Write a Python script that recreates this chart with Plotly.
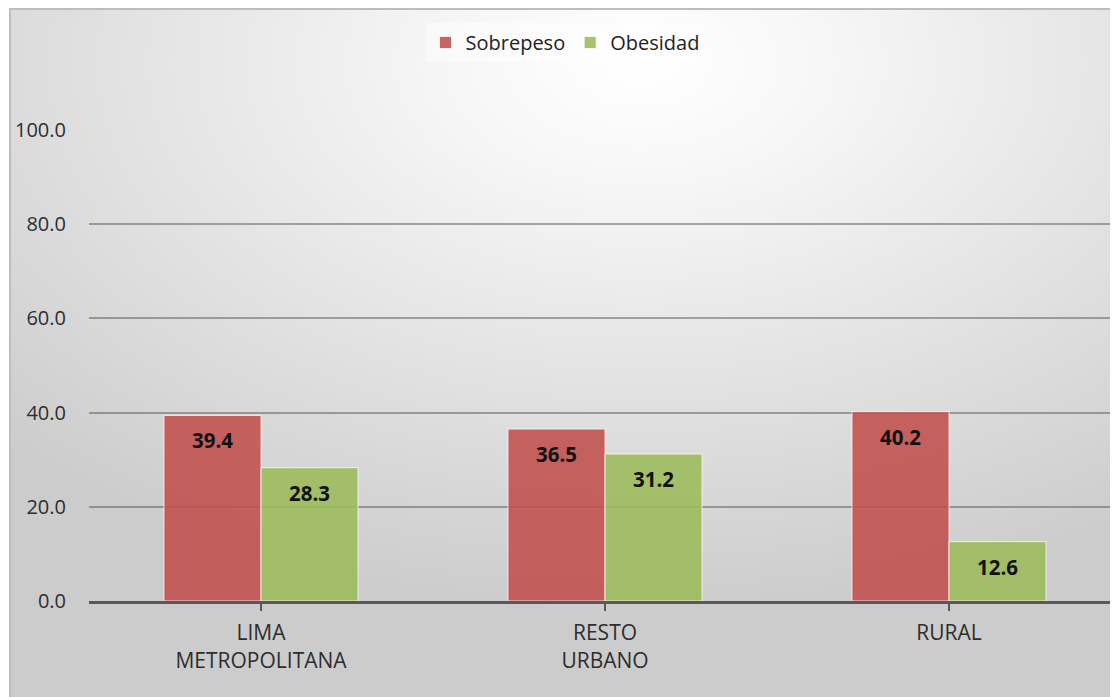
import base64
import plotly.graph_objects as go

# ---- data ----
categories = ["LIMA<br>METROPOLITANA", "RESTO<br>URBANO", "RURAL"]
sobrepeso = [39.4, 36.5, 40.2]
obesidad = [28.3, 31.2, 12.6]
series_names = ["Sobrepeso", "Obesidad"]
y_ticks = [0, 20, 40, 60, 80, 100]
y_tick_labels = ["0.0", "20.0", "40.0", "60.0", "80.0", "100.0"]

# ---- style ----
OFF = 8  # page body margin
W, H = 1118 - OFF, 697 - OFF
ML, MR, MT, MB = 89 - OFF, 0, 130 - OFF, 697 - 601
plot_w = W - ML - MR
plot_h = H - MT - MB
cat_px = 344.0
BARGAP = 0.436
FONT = "Open Sans"
red = "rgba(192,80,77,0.88)"
green = "rgba(155,187,89,0.88)"

# radial gradient background (SVG data URI)
bg_x0, bg_y0, bg_x1, bg_y1 = 1, 0, W - 1, H
bw, bh = bg_x1 - bg_x0, bg_y1 - bg_y0
svg = (
    f"<svg xmlns='http://www.w3.org/2000/svg' width='{bw}' height='{bh}' viewBox='0 0 {bw} {bh}' preserveAspectRatio='none'>"
    "<defs><radialGradient id='g' cx='0.57' cy='0.08' r='0.8'>"
    "<stop offset='0' stop-color='#ffffff'/><stop offset='0.2' stop-color='#f7f7f7'/>"
    "<stop offset='1' stop-color='#cccccc'/></radialGradient></defs>"
    f"<rect x='0' y='0' width='{bw}' height='{bh}' fill='url(#g)'/>"
    f"<rect x='1' y='1' width='{bw-2}' height='{bh+5}' fill='none' stroke='#bdbdbd' stroke-width='2'/>"
    "</svg>"
)
src = "data:image/svg+xml;base64," + base64.b64encode(svg.encode()).decode()

fig = go.Figure()
xs = list(range(len(categories)))
fig.add_trace(go.Bar(x=xs, y=sobrepeso, name=series_names[0],
                     marker=dict(color=red, line=dict(color="rgba(255,255,255,0.75)", width=1))))
fig.add_trace(go.Bar(x=xs, y=obesidad, name=series_names[1],
                     marker=dict(color=green, line=dict(color="rgba(255,255,255,0.75)", width=1))))

# data labels, placed inside the bar tops
bar_w = (1 - BARGAP) / 2
annotations = []
for i in xs:
    for vals, off in ((sobrepeso, -bar_w / 2), (obesidad, bar_w / 2)):
        annotations.append(dict(x=i + off, y=vals[i], xref="x", yref="y",
                                text=f"<b>{vals[i]:.1f}</b>", showarrow=False,
                                yshift=-25, font=dict(family=FONT, size=20.5, color="#111111")))

x_end = -0.5 + plot_w / cat_px

fig.update_layout(
    width=W, height=H,
    margin=dict(l=ML, r=MR, t=MT, b=MB, pad=0),
    paper_bgcolor="white",
    plot_bgcolor="rgba(0,0,0,0)",
    barmode="group", bargap=BARGAP, bargroupgap=0,
    font=dict(family=FONT, size=20, color="#404040"),
    showlegend=True,
    legend=dict(orientation="h", x=(557 - ML) / plot_w, xanchor="center",
                y=(plot_h + MT - 15) / plot_h, yanchor="top",
                bgcolor="rgba(255,255,255,0.45)", font=dict(family=FONT, size=20, color="#222222"),
                itemwidth=30, tracegroupgap=0),
    annotations=annotations,
    images=[dict(source=src, xref="paper", yref="paper",
                 x=(bg_x0 - ML) / plot_w, y=(H - MB - bg_y0) / plot_h,
                 sizex=bw / plot_w, sizey=bh / plot_h,
                 xanchor="left", yanchor="top", sizing="stretch", layer="below")],
    xaxis=dict(range=[-0.5, x_end], tickmode="array", tickvals=xs, ticktext=categories,
               showgrid=False, zeroline=False, showline=True, linecolor="#595959", linewidth=3,
               ticks="outside", tickson="boundaries", ticklen=7, tickwidth=2, tickcolor="#595959",
               ticklabelstandoff=4, tickfont=dict(family=FONT, size=21, color="#2e2e2e")),
    yaxis=dict(range=[0, 100], tickmode="array", tickvals=y_ticks, ticktext=y_tick_labels,
               showgrid=True, gridcolor="rgba(70,70,70,0.45)", gridwidth=2, zeroline=False,
               showline=False, ticks="", ticklabelstandoff=22,
               tickfont=dict(family=FONT, size=20, color="#2e2e2e")),
)

fig.write_html("out.html")
